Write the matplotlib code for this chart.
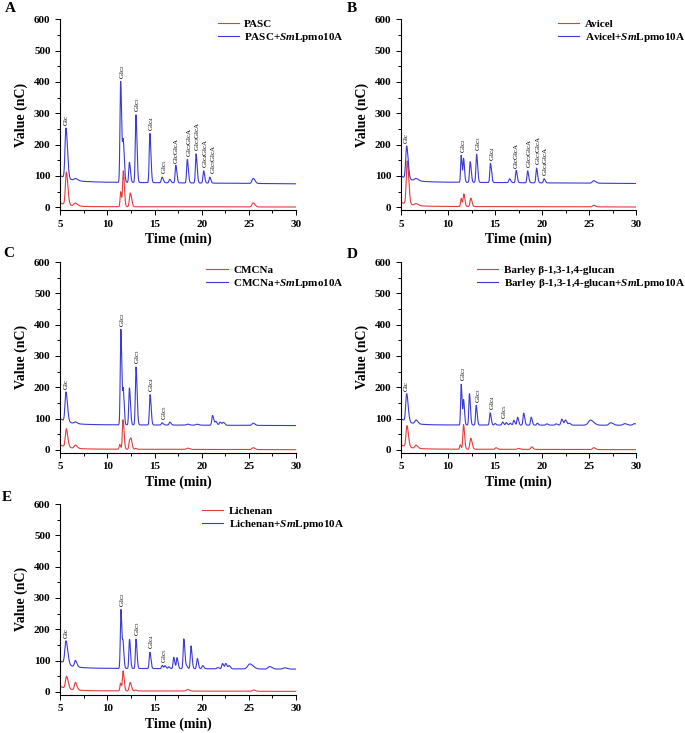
import numpy as np
import matplotlib
matplotlib.use("Agg")
import matplotlib.pyplot as plt
from matplotlib.ticker import MultipleLocator

plt.rcParams["font.family"] = ["Liberation Serif", "DejaVu Serif"]
plt.rcParams["mathtext.fontset"] = "custom"
plt.rcParams["mathtext.rm"] = "Liberation Serif"
plt.rcParams["mathtext.it"] = "Liberation Serif:italic:bold"
plt.rcParams["mathtext.bf"] = "Liberation Serif:bold"

RED = "#e23c3c"
BLUE = "#3a3ad6"

# peak tables: (retention time min, height above baseline nC, width min)
# baseline: (level at 5 min, level at 30 min); early tail: (amplitude, decay min)
PASC_PEAKS = [(5.64, 104, 0.1), (6.6, 9, 0.15), (11.4, 48, 0.06), (11.68, 114, 0.07),
              (12.42, 44, 0.09), (25.45, 13, 0.12)]
PASC_BASE = (2, 1)
PASC_TAIL = (12, 1.0)
PASC_SM_PEAKS = [(5.6, 160, 0.1), (6.6, 6, 0.15), (11.4, 322, 0.07), (11.68, 124, 0.07),
                 (12.33, 64, 0.07), (13.02, 216, 0.07), (14.5, 157, 0.07), (15.8, 18, 0.08),
                 (16.6, 11, 0.08), (17.25, 56, 0.07), (18.47, 75, 0.07), (19.4, 93, 0.07),
                 (20.2, 39, 0.07), (20.85, 19, 0.07), (25.45, 16, 0.12)]
PASC_SM_BASE = (81, 75)
PASC_SM_TAIL = (20, 1.2)
PASC_LABELS = [(5.6, "Glc"), (11.4, "Glc$_2$"), (13.02, "Glc$_3$"), (14.5, "Glc$_4$"),
               (15.8, "Glc$_5$"), (17.25, "GlcGlcA"), (18.47, "Glc$_2$GlcA"),
               (19.4, "Glc$_3$GlcA"), (20.2, "Glc$_4$GlcA"), (21.05, "Glc$_5$GlcA")]

AVICEL_PEAKS = [(5.66, 138, 0.1), (6.6, 6, 0.15), (11.4, 26, 0.06), (11.68, 40, 0.07),
                (12.42, 27, 0.08), (25.5, 5, 0.12)]
AVICEL_BASE = (3, 1)
AVICEL_TAIL = (13, 1.1)
AVICEL_SM_PEAKS = [(5.6, 104, 0.1), (6.6, 7, 0.15), (11.4, 86, 0.06), (11.66, 74, 0.06),
                   (12.36, 66, 0.07), (13.04, 90, 0.07), (14.52, 61, 0.07), (16.55, 12, 0.08),
                   (17.25, 39, 0.07), (18.47, 38, 0.07), (19.42, 47, 0.07), (20.22, 13, 0.07),
                   (25.5, 8, 0.14)]
AVICEL_SM_BASE = (81, 76)
AVICEL_SM_TAIL = (19, 1.1)
AVICEL_LABELS = [(5.6, "Glc"), (11.4, "Glc$_2$"), (13.04, "Glc$_3$"), (14.52, "Glc$_4$"),
                 (17.25, "GlcGlcA"), (18.47, "Glc$_2$GlcA"), (19.42, "Glc$_3$GlcA"),
                 (20.22, "Glc$_4$GlcA")]

CMC_PEAKS = [(5.63, 58, 0.1), (6.6, 10, 0.12), (11.3, 15, 0.06), (11.65, 94, 0.07),
             (12.35, 29, 0.07), (12.52, 25, 0.07), (13.0, 3, 0.07), (18.5, 4, 0.12),
             (25.45, 6, 0.12)]
CMC_BASE = (3, 1)
CMC_TAIL = (13, 1.0)
CMC_SM_PEAKS = [(5.6, 94, 0.1), (6.6, 5, 0.12), (11.42, 305, 0.065), (11.68, 104, 0.06),
                (12.33, 118, 0.07), (13.03, 185, 0.07), (14.52, 97, 0.07), (15.8, 7, 0.08),
                (16.62, 9, 0.08), (18.5, 3, 0.12), (19.5, 3, 0.12), (21.15, 31, 0.08),
                (21.5, 12, 0.08), (21.95, 10, 0.09), (22.3, 9, 0.09), (25.45, 7, 0.12)]
CMC_SM_BASE = (81, 78)
CMC_SM_TAIL = (19, 1.0)
CMC_LABELS = [(5.6, "Glc"), (11.42, "Glc$_2$"), (13.03, "Glc$_3$"), (14.52, "Glc$_4$"),
              (15.8, "Glc$_5$")]

BARLEY_PEAKS = [(5.63, 68, 0.1), (6.6, 10, 0.12), (11.3, 14, 0.06), (11.65, 79, 0.07),
                (12.42, 35, 0.09), (15.1, 5, 0.09), (17.5, 3, 0.12), (18.9, 8, 0.09),
                (25.5, 6, 0.12)]
BARLEY_BASE = (3, 1)
BARLEY_TAIL = (13, 1.0)
BARLEY_SM_PEAKS = [(5.6, 89, 0.1), (6.6, 12, 0.12), (11.4, 130, 0.06), (11.66, 78, 0.06),
                   (12.28, 100, 0.065), (13.0, 63, 0.065), (14.48, 39, 0.07), (15.0, 5, 0.07),
                   (15.8, 10, 0.07), (16.2, 8, 0.07), (16.6, 6, 0.07), (17.0, 15, 0.07),
                   (17.4, 25, 0.07), (18.05, 38, 0.07), (18.85, 25, 0.07), (19.5, 6, 0.07),
                   (20.5, 4, 0.09), (21.5, 4, 0.09), (22.1, 19, 0.09), (22.5, 16, 0.09),
                   (22.9, 6, 0.09), (25.15, 16, 0.22), (27.3, 8, 0.16), (28.8, 5, 0.16),
                   (29.85, 5, 0.16)]
BARLEY_SM_BASE = (80, 79)
BARLEY_SM_TAIL = (20, 1.0)
BARLEY_LABELS = [(5.6, "Glc"), (11.4, "Glc$_2$"), (13.0, "Glc$_3$"), (14.48, "Glc$_4$"),
                 (15.8, "Glc$_5$")]

LICH_PEAKS = [(5.66, 39, 0.11), (6.6, 24, 0.1), (11.38, 25, 0.06), (11.66, 64, 0.07),
              (12.4, 27, 0.09), (13.0, 3, 0.07), (18.5, 5, 0.12), (25.5, 4, 0.12)]
LICH_BASE = (4, 2)
LICH_TAIL = (14, 1.0)
LICH_SM_PEAKS = [(5.6, 74, 0.12), (6.6, 20, 0.1), (11.43, 188, 0.065), (11.66, 72, 0.06),
                 (12.34, 93, 0.065), (13.03, 94, 0.065), (14.5, 52, 0.07), (15.8, 10, 0.07),
                 (16.1, 9, 0.07), (16.5, 6, 0.07), (17.03, 36, 0.07), (17.38, 35, 0.07),
                 (18.1, 95, 0.07), (18.4, 8, 0.07), (18.86, 73, 0.07), (19.53, 33, 0.07),
                 (20.1, 10, 0.08), (21.7, 4, 0.09), (22.2, 17, 0.08), (22.55, 17, 0.08),
                 (22.9, 10, 0.09), (25.1, 16, 0.22), (27.2, 8, 0.16), (28.8, 4, 0.16)]
LICH_SM_BASE = (76, 73)
LICH_SM_TAIL = (24, 1.0)
LICH_LABELS = [(5.6, "Glc"), (11.43, "Glc$_2$"), (13.03, "Glc$_3$"), (14.5, "Glc$_4$"),
               (15.8, "Glc$_5$")]

TAILING = 1.6


def chromatogram(t, peaks, base, tail):
    y = base[0] + (base[1] - base[0]) * (t - 5) / 25
    y = y + tail[0] * np.exp(-(t - 5) / tail[1])
    for t0, h, w in peaks:
        s = np.where(t < t0, w, w * TAILING)
        y = y + h * np.exp(-0.5 * ((t - t0) / s) ** 2)
    return y


def draw_panel(fig, rect, letter, letter_xy, red, blue, labels, names, legend_xy):
    ax = fig.add_axes(rect)
    t = np.linspace(5, 30, 5001)
    y_red = chromatogram(t, *red)
    y_blue = chromatogram(t, *blue)
    ax.plot(t, y_red, color=RED, lw=0.8, label=names[0])
    ax.plot(t, y_blue, color=BLUE, lw=0.8, label=names[1])

    for t0, text in labels:
        win = (t > t0 - 0.25) & (t < t0 + 0.25)
        top = y_blue[win].max()
        ax.annotate(text, (t0, top), xytext=(-1.8, 2), textcoords="offset points",
                    rotation=90, ha="left", va="bottom", fontsize=5)

    ax.set_xlim(5, 30)
    ax.set_ylim(-8, 600)
    ax.xaxis.set_major_locator(MultipleLocator(5))
    ax.xaxis.set_minor_locator(MultipleLocator(2.5))
    ax.yaxis.set_major_locator(MultipleLocator(100))
    ax.yaxis.set_minor_locator(MultipleLocator(50))
    ax.spines["top"].set_visible(False)
    ax.spines["right"].set_visible(False)
    ax.tick_params(which="both", direction="out", width=0.7, labelsize=8)
    ax.tick_params(which="major", length=3.5)
    ax.tick_params(which="minor", length=2)
    for lab in ax.get_xticklabels() + ax.get_yticklabels():
        lab.set_fontweight("bold")
    ax.set_xlabel("Time (min)", fontsize=10, fontweight="bold", labelpad=3)
    ax.set_ylabel("Value (nC)", fontsize=10, fontweight="bold", labelpad=4)

    ax.legend(loc="upper right", bbox_to_anchor=legend_xy, bbox_transform=fig.transFigure,
              frameon=False, borderpad=0, borderaxespad=0, handlelength=1.9,
              handletextpad=0.5, labelspacing=0.2,
              prop={"weight": "bold", "size": 8})
    fig.text(letter_xy[0], letter_xy[1], letter, fontsize=11, fontweight="bold",
             ha="left", va="top")
    return ax


def main():
    fig = plt.figure(figsize=(6.85, 7.33), dpi=100)
    W, H = 685.0, 733.0

    def rect(left, right, top, bottom):
        return [left / W, 1 - bottom / H, (right - left) / W, (bottom - top) / H]

    draw_panel(fig, rect(60.3, 296, 19.3, 209.8), "A", (5 / W, 1 - 2 / H),
               (PASC_PEAKS, PASC_BASE, PASC_TAIL),
               (PASC_SM_PEAKS, PASC_SM_BASE, PASC_SM_TAIL),
               PASC_LABELS, ["PASC", r"PASC+$\mathit{Sm}$Lpmo10A"],
               (344 / W, 1 - 19 / H))
    draw_panel(fig, rect(401, 636, 19.3, 209.8), "B", (347 / W, 1 - 2 / H),
               (AVICEL_PEAKS, AVICEL_BASE, AVICEL_TAIL),
               (AVICEL_SM_PEAKS, AVICEL_SM_BASE, AVICEL_SM_TAIL),
               AVICEL_LABELS, ["Avicel", r"Avicel+$\mathit{Sm}$Lpmo10A"],
               (685 / W, 1 - 19 / H))
    draw_panel(fig, rect(60.3, 296, 262, 452.5), "C", (3 / W, 1 - 247 / H),
               (CMC_PEAKS, CMC_BASE, CMC_TAIL),
               (CMC_SM_PEAKS, CMC_SM_BASE, CMC_SM_TAIL),
               CMC_LABELS, ["CMCNa", r"CMCNa+$\mathit{Sm}$Lpmo10A"],
               (344 / W, 1 - 265 / H))
    draw_panel(fig, rect(401, 636, 262, 452.5), "D", (347 / W, 1 - 248 / H),
               (BARLEY_PEAKS, BARLEY_BASE, BARLEY_TAIL),
               (BARLEY_SM_PEAKS, BARLEY_SM_BASE, BARLEY_SM_TAIL),
               BARLEY_LABELS, ["Barley β-1,3-1,4-glucan",
                               r"Barley β-1,3-1,4-glucan+$\mathit{Sm}$Lpmo10A"],
               (685 / W, 1 - 265 / H))
    draw_panel(fig, rect(60.3, 296, 504, 694.5), "E", (2 / W, 1 - 491 / H),
               (LICH_PEAKS, LICH_BASE, LICH_TAIL),
               (LICH_SM_PEAKS, LICH_SM_BASE, LICH_SM_TAIL),
               LICH_LABELS, ["Lichenan", r"Lichenan+$\mathit{Sm}$Lpmo10A"],
               (344 / W, 1 - 506 / H))

    fig.savefig("out.png", dpi=100)
    plt.close(fig)


if __name__ == "__main__":
    main()
